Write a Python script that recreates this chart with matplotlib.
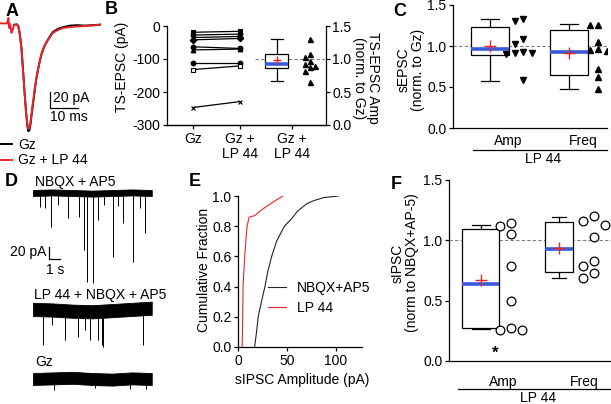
import matplotlib
matplotlib.use('Agg')
import matplotlib.pyplot as plt
from matplotlib.lines import Line2D
from matplotlib.ticker import FormatStrFormatter
import numpy as np

plt.rcParams['font.family'] = ['Liberation Sans', 'DejaVu Sans']
plt.rcParams['font.size'] = 10
plt.rcParams['axes.unicode_minus'] = False
plt.rcParams['axes.linewidth'] = 0.9
plt.rcParams['xtick.major.width'] = 0.9
plt.rcParams['ytick.major.width'] = 0.9
plt.rcParams['xtick.major.size'] = 2.8
plt.rcParams['ytick.major.size'] = 2.8
plt.rcParams['xtick.major.pad'] = 2.5
plt.rcParams['ytick.major.pad'] = 1.8

RED = '#e8242a'
BLUE = '#3a5bd9'
GREY = '#808080'

# ---- A: evoked TS-EPSC (ms, pA)
a_lp_t = [0, 2.5, 3.0, 3.3, 3.6, 4.1, 4.5, 5.0, 6.1, 6.6, 7.1, 7.7, 8.2, 8.75, 9.3, 9.75, 10.1, 10.5,
          10.9, 11.3, 11.9, 12.5, 13.1, 13.7, 14.3, 14.9, 15.7, 16.7, 17.9, 18.9, 20.7, 22.5, 25.0,
          27.5, 30.4, 32.9, 35.7]
a_lp_i = [0.9, 0.6, 7.5, -5, 0, -11, -7.5, -1.2, -0.6, -3.8, -13.8, -32.5, -57.5, -85, -110, -125,
          -131, -130, -122.5, -111, -95, -79, -65, -54, -45, -36, -29, -22.5, -16, -11, -7.5, -5,
          -3.8, -3.1, -2.5, -1.9, -0.9]
a_gz_t = [5.0, 6.1, 6.6, 7.1, 7.7, 8.2, 8.75, 9.3, 9.75, 10.1, 10.5, 10.9, 11.3, 11.9, 12.5, 13.1,
          13.7, 14.3, 14.9, 15.7, 16.7, 17.9, 18.9, 20.7, 22.5, 25.0, 27.5, 30.4, 32.9, 35.7]
a_gz_i = [-1, -0.5, -3.5, -13, -31, -56, -84, -110, -127, -134, -133, -125, -113, -97, -80, -66,
          -55, -45, -37, -29, -22, -15, -10, -6, -4, -2, -1.5, -2, -1.5, -0.8]

# ---- B: TS-EPSC amplitude per cell (pA) and normalised
b_gz = [-19, -27.5, -35, -42, -63, -72.5, -111, -132, -247]
b_lp = [-16, -24.5, -31.6, -37.7, -68, -70, -111, -121, -229]
b_markers = ['s', 'o', '^', 'D', 'o', '^', 'o', 's', 'x']
b_norm = [1.30, 1.075, 1.035, 0.965, 0.925, 0.90, 0.885, 0.825, 0.65]
b_box = [0.66, 0.865, 0.925, 1.075, 1.30, 0.985]  # whislo, q1, med, q3, whishi, mean
b_labels = ['Gz', 'Gz +\nLP 44', 'Gz +\nLP 44']

# ---- C: sEPSC normalised to Gz
c_amp = [1.33, 1.30, 1.08, 1.03, 0.93, 0.92, 0.91, 0.90, 0.58]
c_freq = [1.26, 1.26, 1.05, 0.96, 0.95, 0.94, 0.72, 0.62, 0.48]
c_amp_box = [0.573, 0.89, 0.963, 1.235, 1.325, 1.0]
c_freq_box = [0.475, 0.645, 0.93, 1.20, 1.27, 0.92]

# ---- D: sIPSC traces (s, pA)
d_band_t = [0, 1.8, 3.6, 5.4, 7.2, 9.0, 10.8]
d_top_base = [0, 1, 0, -1, 0, 1, 0]
d_mid_base = [1, 0, -2, -3, -1, 1, 3]
d_gz_base = [0, 1, 2, 0, -1, 1, 0]
d_top_ev_t = [0.6, 1.1, 1.6, 2.3, 3.2, 4.2, 4.6, 4.9, 5.5, 5.9, 6.5, 7.3, 7.7, 8.2, 9.1, 9.7, 10.2]
d_top_ev_a = [23, 25, 57, 20, 42, 40, 95, 148, 150, 45, 20, 107, 22, 50, 115, 25, 67]
d_mid_ev_t = [0.9, 1.7, 2.9, 4.1, 4.7, 5.2, 5.9, 6.3, 6.4, 10.0]
d_mid_ev_a = [58, 25, 50, 45, 33, 50, 50, 58, 62, 58]
d_gz_ev_t = [1.9, 5.6, 8.8, 10.3]
d_gz_ev_a = [18, 15, 17, 16]

# ---- E: cumulative sIPSC amplitude
e_nbqx_amp = [17, 18, 19, 20.7, 24, 27.6, 30.5, 34.5, 39.5, 47.5, 55, 61, 70.7, 78, 88, 103]
e_nbqx_frac = [0, 0.05, 0.1, 0.2, 0.3, 0.4, 0.5, 0.6, 0.7, 0.8, 0.85, 0.9, 0.95, 0.97, 0.99, 1.0]
e_lp_amp = [4.2, 4.6, 5.2, 6.0, 6.9, 8.0, 9.3, 11.4, 14, 17.3, 22.4, 29, 36, 41, 46]
e_lp_frac = [0, 0.1, 0.4, 0.5, 0.6, 0.7, 0.8, 0.86, 0.865, 0.87, 0.9, 0.93, 0.96, 0.98, 1.0]

# ---- F: sIPSC normalised to NBQX+AP-5
f_amp = [1.14, 1.12, 1.05, 0.79, 0.50, 0.27, 0.26, 0.26]
f_freq = [1.20, 1.16, 1.13, 1.03, 0.83, 0.79, 0.73, 0.69]
f_amp_box = [0.265, 0.27, 0.635, 1.095, 1.13, 0.675]
f_freq_box = [0.69, 0.74, 0.927, 1.15, 1.19, 0.94]

W, H = 611, 404
fig = plt.figure(figsize=(W / 100, H / 100), dpi=100)


def px_axes(l, t, r, b):
    return fig.add_axes([l / W, 1 - b / H, (r - l) / W, (b - t) / H])


def px_text(x, y, s, **kw):
    kw.setdefault('ha', 'center')
    kw.setdefault('va', 'center')
    fig.text(x / W, 1 - y / H, s, **kw)


def px_hline(x0, x1, y):
    fig.add_artist(Line2D([x0 / W, x1 / W], [1 - y / H, 1 - y / H], color='k', lw=0.9))


def stats(v):
    return dict(whislo=v[0], q1=v[1], med=v[2], q3=v[3], whishi=v[4], mean=v[5], fliers=[])


def draw_boxes(ax, boxes, pos, widths, ms=9):
    ax.bxp([stats(b) for b in boxes], positions=pos, widths=widths, showmeans=True,
           showfliers=False, patch_artist=True, manage_ticks=False,
           boxprops=dict(facecolor='white', edgecolor='k', lw=0.9),
           medianprops=dict(color=BLUE, lw=2.6),
           meanprops=dict(marker='+', markeredgecolor=RED, markersize=ms, markeredgewidth=1.0),
           whiskerprops=dict(color='k', lw=0.9), capprops=dict(color='k', lw=0.9))


def swarm(values, step, ythr):
    placed = []
    offs = []
    cands = [0]
    for i in range(1, 6):
        cands += [-i * step, i * step]
    for v in values:
        for c in cands:
            if all(abs(c - pc) >= step * 0.99 or abs(v - pv) >= ythr for pc, pv in placed):
                break
        placed.append((c, v))
        offs.append(c)
    return np.array(offs)


def clean(ax):
    ax.spines['top'].set_visible(False)
    ax.spines['right'].set_visible(False)


# ================= A
ax_a = px_axes(0, 10, 105, 135)
ax_a.set_xlim(0, 37.5)
ax_a.set_ylim(-138.75, 17.5)
ax_a.axis('off')
l_gz, = ax_a.plot(a_gz_t, a_gz_i, color='k', lw=1.4)
l_lp, = ax_a.plot(a_lp_t, a_lp_i, color=RED, lw=1.4)
ax_a.plot([17.9, 17.9, 27.9], [-85, -105, -105], color='k', lw=0.9)
ax_a.text(18.9, -92.5, '20 pA', ha='left', va='center')
ax_a.text(17.9, -116, '10 ms', ha='left', va='center')
ax_a.legend([l_gz, l_lp], ['Gz', 'Gz + LP 44'], loc='upper left',
            bbox_to_anchor=(-2 / W, 1 - 138 / H), bbox_transform=fig.transFigure,
            frameon=False, handlelength=1.0, handletextpad=0.45, labelspacing=0.1,
            borderpad=0, borderaxespad=0)

# ================= B
ax_b = px_axes(167, 26, 326, 125)
for g, lp, m in zip(b_gz, b_lp, b_markers):
    face = 'white' if m == 's' and g < -120 else 'k'
    ax_b.plot([1, 2], [g, lp], color='k', lw=0.9, marker=m, ms=3.4, mfc=face, mec='k', mew=0.8)
ax_b.set_xlim(0.447, 3.83)
ax_b.set_ylim(-300, 0)
ax_b.set_yticks([-300, -200, -100, 0])
ax_b.set_xticks([1, 2, 3.1])
ax_b.set_xticklabels(b_labels, linespacing=1.05)
ax_b.spines['top'].set_visible(False)
ax_b.spines['right'].set_visible(False)

ax_b2 = ax_b.twinx()
ax_b2.set_ylim(0, 1.5)
ax_b2.set_yticks([0, 0.5, 1.0, 1.5])
ax_b2.yaxis.set_major_formatter(FormatStrFormatter('%.1f'))
ax_b2.spines['top'].set_visible(False)
ax_b2.spines['left'].set_visible(False)
b_pos = 2.787
ax_b2.hlines(1.0, b_pos - 0.47, 3.83, colors=GREY, lw=0.8, linestyles=(0, (3, 2)))
draw_boxes(ax_b2, [b_box], [b_pos], [0.49], ms=6)
ax_b2.plot(b_pos + 0.7 + swarm(b_norm, 0.1, 0.075), b_norm, '^', color='k', ms=3.6, ls='none')

px_text(122, 67, 'TS-EPSC (pA)', rotation=90)
px_text(366, 78, 'TS-EPSC Amp\n(norm. to Gz)', rotation=-90, linespacing=1.05)

# ================= C
ax_c = px_axes(453, 5, 607, 128)
ax_c.set_xlim(0.532, 2.48)
ax_c.set_ylim(0, 1.5)
clean(ax_c)
ax_c.axhline(1.0, color=GREY, lw=0.8, ls=(0, (3, 2)))
draw_boxes(ax_c, [c_amp_box, c_freq_box], [1, 2], [0.47, 0.47])
ax_c.plot(1.42 + swarm(c_amp, 0.11, 0.075), c_amp, 'v', color='k', ms=4.5, ls='none')
ax_c.plot(2.37 + swarm(c_freq, 0.11, 0.075), c_freq, '^', color='k', ms=4.5, ls='none')
ax_c.set_yticks([0, 0.5, 1.0, 1.5])
ax_c.yaxis.set_major_formatter(FormatStrFormatter('%.1f'))
ax_c.set_xticks([1.23, 2.18])
ax_c.set_xticklabels(['Amp', 'Freq'])
ax_c.tick_params(axis='x', length=0, pad=4)
px_hline(473, 607, 150)
px_text(543, 159, 'LP 44')
px_text(411, 70, 'sEPSC\n(norm. to Gz)', rotation=90, linespacing=1.05)

# ================= D
ax_d = px_axes(30, 180, 160, 400)
ax_d.set_xlim(-0.27, 11.55)
ax_d.set_ylim(-345, 21.7)
ax_d.axis('off')
for off, base, hw, ev_t, ev_a in [(0, d_top_base, 5, d_top_ev_t, d_top_ev_a),
                                  (-195, d_mid_base, 11, d_mid_ev_t, d_mid_ev_a),
                                  (-310, d_gz_base, 10, d_gz_ev_t, d_gz_ev_a)]:
    b = np.array(base) + off
    ax_d.fill_between(d_band_t, b - hw, b + hw, color='k', lw=0.6, edgecolor='k')
    ax_d.vlines(ev_t, off - np.array(ev_a), off, colors='k', lw=0.7)
ax_d.plot([1.45, 1.45, 2.45], [-90, -110, -110], color='k', lw=0.9)
px_text(35, 182, 'NBQX + AP5', ha='left')
px_text(34, 295, 'LP 44 + NBQX + AP5', ha='left')
px_text(35, 362, 'Gz', ha='left')
px_text(46, 252, '20 pA', ha='right')
px_text(55, 270, '1 s')

# ================= E
ax_e = px_axes(238, 196, 362, 347)
l_nb, = ax_e.plot(e_nbqx_amp, e_nbqx_frac, color='#222222', lw=0.8)
l_l4, = ax_e.plot(e_lp_amp, e_lp_frac, color=RED, lw=0.8)
ax_e.set_xlim(0, 127)
ax_e.set_ylim(0, 1.0)
ax_e.set_xticks([0, 50, 100])
ax_e.set_yticks([0, 0.2, 0.4, 0.6, 0.8, 1.0])
ax_e.yaxis.set_major_formatter(FormatStrFormatter('%.1f'))
clean(ax_e)
ax_e.legend([l_nb, l_l4], ['NBQX+AP5', 'LP 44'], loc='upper left',
            bbox_to_anchor=(268 / W, 1 - 281 / H), bbox_transform=fig.transFigure,
            frameon=False, handlelength=1.3, handletextpad=0.8, labelspacing=0.45,
            borderpad=0, borderaxespad=0)
px_text(204, 270, 'Cumulative Fraction', rotation=90)
px_text(302, 380, 'sIPSC Amplitude (pA)')

# ================= F
ax_f = px_axes(449, 180, 611, 361)
ax_f.set_xlim(0.59, 2.667)
ax_f.set_ylim(0, 1.5)
clean(ax_f)
ax_f.axhline(1.0, color=GREY, lw=0.8, ls=(0, (3, 2)))
draw_boxes(ax_f, [f_amp_box, f_freq_box], [1, 2], [0.474, 0.36])
ax_f.plot(1.38 + swarm(f_amp, 0.14, 0.075), f_amp, 'o', mfc='white', mec='k', mew=0.9,
          ms=6.3, ls='none')
ax_f.plot(2.45 + swarm(f_freq, 0.14, 0.075), f_freq, 'o', mfc='white', mec='k', mew=0.9,
          ms=6.3, ls='none')
ax_f.text(1.18, 0.06, '*', ha='center', va='center', fontsize=12, fontweight='bold')
ax_f.set_yticks([0, 0.5, 1.0, 1.5])
ax_f.yaxis.set_major_formatter(FormatStrFormatter('%.1f'))
ax_f.set_xticks([1.28, 2.33])
ax_f.set_xticklabels(['Amp', 'Freq'])
ax_f.tick_params(axis='x', length=0, pad=10)
px_hline(458, 611, 389)
px_text(538, 398, 'LP 44')
px_text(405, 263, 'sIPSC\n(norm to NBQX+AP-5)', rotation=90, linespacing=1.05)

# panel letters
for s, x, y in [('A', 12, 12), ('B', 111, 10), ('C', 400, 12), ('D', 11, 182), ('E', 195, 182),
                ('F', 396, 185)]:
    px_text(x, y, s, fontsize=13, fontweight='bold')

fig.savefig('out.png', dpi=100)
